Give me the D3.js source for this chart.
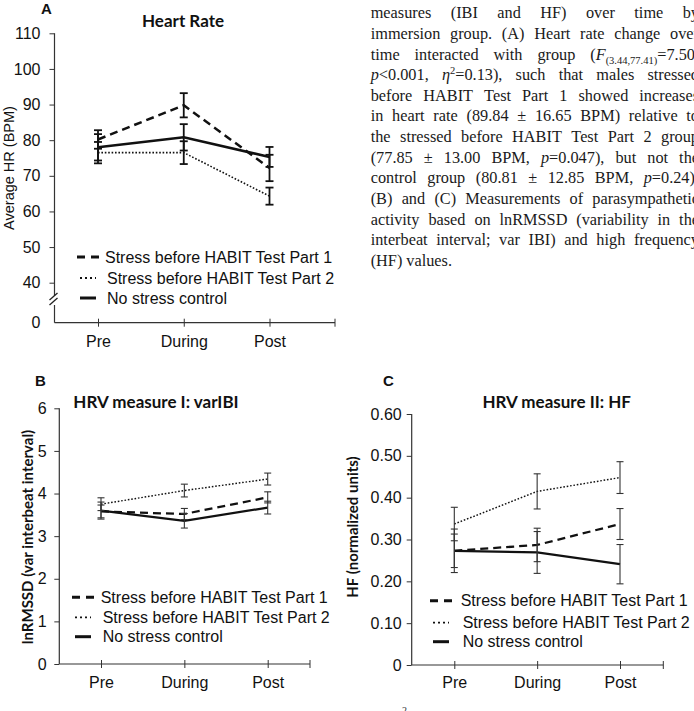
<!DOCTYPE html>
<html>
<head>
<meta charset="utf-8">
<script src="https://cdn.jsdelivr.net/npm/d3@7"></script>
<style>
  body { margin: 0; background: #fff; }
  svg { display: block; }
</style>
</head>
<body>
<svg id="fig" width="694" height="711"></svg>
<script>
// time points and groups
const timepoints = ['Pre', 'During', 'Post'];
const groupNames = ['Stress before HABIT Test Part 1', 'Stress before HABIT Test Part 2', 'No stress control'];

// A: heart rate (BPM), means and error
const hrPart1 = [80.2, 89.8, 72.2];
const hrPart1Err = [2.6, 3.4, 3.7];
const hrPart2 = [76.5, 76.5, 64.3];
const hrPart2Err = [3.0, 3.2, 2.4];
const hrControl = [78.0, 80.8, 75.3];
const hrControlErr = [3.7, 3.7, 2.8];
const hrTicks = [40, 50, 60, 70, 80, 90, 100, 110];

// B: lnRMSSD
const ibiPart1 = [3.58, 3.52, 3.91];
const ibiPart1Err = [0.15, 0.13, 0.13];
const ibiPart2 = [3.75, 4.07, 4.34];
const ibiPart2Err = [0.15, 0.15, 0.14];
const ibiControl = [3.60, 3.36, 3.67];
const ibiControlErr = [0.20, 0.17, 0.15];
const ibiTicks = [0, 1, 2, 3, 4, 5, 6];

// C: HF (normalized units)
const hfPart1 = [0.273, 0.287, 0.337];
const hfPart1Err = [0.052, 0.040, 0.037];
const hfPart2 = [0.337, 0.415, 0.448];
const hfPart2Err = [0.040, 0.042, 0.038];
const hfControl = [0.273, 0.269, 0.241];
const hfControlErr = [0.040, 0.050, 0.047];
const hfTicks = [0, 0.1, 0.2, 0.3, 0.4, 0.5, 0.6];

// caption lines (right column, justified, cut by the page edge as in the scan)
const captionLines = [
    'measures (IBI and HF) over time by',
    'immersion group. (A) Heart rate change over',
    'time interacted with group (*F*_{(3.44,77.41)}=7.50,',
    '*p*<0.001, *η*^{2}=0.13), such that males stressed',
    'before HABIT Test Part 1 showed increases',
    'in heart rate (89.84 ± 16.65 BPM) relative to',
    'the stressed before HABIT Test Part 2 group',
    '(77.85 ± 13.00 BPM, *p*=0.047), but not the',
    'control group (80.81 ± 12.85 BPM, *p*=0.24).',
    '(B) and (C) Measurements of parasympathetic',
    'activity based on lnRMSSD (variability in the',
    'interbeat interval; var IBI) and high frequency',
    '(HF) values.'
];

const svg = d3.select('#fig');
const SANS = 'Liberation Sans, Arial, sans-serif';
const TITLE = 'Lato, Calibri, sans-serif';

const styles = [
    {dash: '8,5', width: 2.5},
    {dash: '1.6,1.8', width: 1.6},
    {dash: null, width: 2.5}
];

const panels = [
    {
        letter: 'A', letterX: 41, letterY: 14,
        title: 'Heart Rate', titleX: 183, titleY: 26.5,
        ylabel: 'Average HR (BPM)', ylabelX: 14, ylabelY: 168, ylabelWeight: 'normal', ylabelFont: SANS, ylabelSize: 14.5,
        means: [hrPart1, hrPart2, hrControl], errs: [hrPart1Err, hrPart2Err, hrControlErr],
        yDomain: [40, 110], yRange: [282.7, 33.3], yTicks: hrTicks, fmt: d3.format('d'),
        axisX: 54.5, axisTop: 33.3, xAxisY: 322.7, xEnd: 335, xRange: [98, 269.5],
        tickPad: 9, labelDy: 13.4, brk: true,
        legendX: 77, legendTextX: 106, legendY: [257, 278, 298],
        errWidth: 1.8, errColor: '#111', capHalf: 4, lineScale: 1
    },
    {
        letter: 'B', letterX: 35, letterY: 386,
        title: 'HRV measure I: varIBI', titleX: 156, titleY: 407.5,
        ylabel: 'lnRMSSD (var interbeat interval)', ylabelX: 33, ylabelY: 537, ylabelWeight: 'bold', ylabelFont: TITLE, ylabelSize: 15,
        means: [ibiPart1, ibiPart2, ibiControl], errs: [ibiPart1Err, ibiPart2Err, ibiControlErr],
        yDomain: [0, 6], yRange: [664, 408.3], yTicks: ibiTicks, fmt: d3.format('d'),
        axisX: 59.3, axisTop: 408.3, xAxisY: 664, xEnd: 310, xRange: [101, 267.7],
        tickPad: 7.6, labelDy: 12.6, brk: false,
        legendX: 72, legendTextX: 101.7, legendY: [597.3, 617.3, 636.7],
        errWidth: 1.1, errColor: '#333', capHalf: 3.5, lineScale: 0.9
    },
    {
        letter: 'C', letterX: 383, letterY: 386,
        title: 'HRV measure II: HF', titleX: 556.7, titleY: 407.5,
        ylabel: 'HF (normalized units)', ylabelX: 358, ylabelY: 527, ylabelWeight: 'bold', ylabelFont: TITLE, ylabelSize: 15,
        means: [hfPart1, hfPart2, hfControl], errs: [hfPart1Err, hfPart2Err, hfControlErr],
        yDomain: [0, 0.6], yRange: [665, 414], yTicks: hfTicks, fmt: d => d === 0 ? '0' : d3.format('.2f')(d),
        axisX: 411.7, axisTop: 414, xAxisY: 665, xEnd: 663.3, xRange: [454.3, 620],
        tickPad: 5, labelDy: 11.6, brk: false,
        legendX: 430, legendTextX: 461.7, legendY: [600.7, 622.7, 641.7],
        errWidth: 1.1, errColor: '#333', capHalf: 3.5, lineScale: 0.9
    }
];

function drawPanel(p) {
    const g = svg.append('g');
    const x = d3.scalePoint().domain(timepoints).range(p.xRange);
    const y = d3.scaleLinear().domain(p.yDomain).range(p.yRange);

    // y axis
    const yAxis = g.append('g')
        .attr('transform', `translate(${p.axisX},0)`)
        .call(d3.axisLeft(y).tickValues(p.yTicks).tickFormat(p.fmt).tickSize(5).tickPadding(p.tickPad));
    yAxis.select('.domain').remove();
    yAxis.selectAll('text').attr('font-family', SANS).attr('font-size', 16).attr('fill', '#111');
    yAxis.selectAll('line').attr('stroke', '#333');

    if (p.brk) {
        // broken axis: 40 ... 0
        g.append('line').attr('x1', p.axisX).attr('x2', p.axisX)
            .attr('y1', p.axisTop).attr('y2', 296).attr('stroke', '#333').attr('stroke-width', 1.2);
        g.append('line').attr('x1', p.axisX).attr('x2', p.axisX)
            .attr('y1', 305).attr('y2', p.xAxisY).attr('stroke', '#333').attr('stroke-width', 1.2);
        [0, 5].forEach(o => {
            g.append('line')
                .attr('x1', p.axisX - 5).attr('y1', 300 + o)
                .attr('x2', p.axisX + 3).attr('y2', 293 + o)
                .attr('stroke', '#222').attr('stroke-width', 1.3);
        });
        g.append('text').attr('x', p.axisX - 14).attr('y', p.xAxisY)
            .attr('dy', '0.32em').attr('text-anchor', 'end')
            .attr('font-family', SANS).attr('font-size', 16).attr('fill', '#111').text('0');
    } else {
        g.append('line').attr('x1', p.axisX).attr('x2', p.axisX)
            .attr('y1', p.axisTop).attr('y2', p.xAxisY).attr('stroke', '#333').attr('stroke-width', 1.2);
    }

    // x axis
    const xAxis = g.append('g')
        .attr('transform', `translate(0,${p.xAxisY})`)
        .call(d3.axisBottom(x).tickSize(4).tickPadding(p.labelDy - 4));
    xAxis.select('.domain').remove();
    xAxis.selectAll('line').attr('y1', -4).attr('stroke', '#333');
    xAxis.selectAll('text').attr('font-family', SANS).attr('font-size', 16).attr('fill', '#111');
    g.append('line').attr('x1', p.axisX).attr('x2', p.xEnd)
        .attr('y1', p.xAxisY).attr('y2', p.xAxisY).attr('stroke', '#333').attr('stroke-width', 1.2);
    g.append('line').attr('x1', p.xEnd).attr('x2', p.xEnd)
        .attr('y1', p.xAxisY - 4).attr('y2', p.xAxisY + 4).attr('stroke', '#333');

    // series lines
    const line = d3.line().x((d, i) => x(timepoints[i])).y(d => y(d));
    p.means.forEach((vals, k) => {
        g.append('path')
            .attr('d', line(vals))
            .attr('fill', 'none')
            .attr('stroke', '#111')
            .attr('stroke-width', styles[k].width * p.lineScale)
            .attr('stroke-dasharray', styles[k].dash);
    });

    // error bars
    p.means.forEach((vals, k) => {
        vals.forEach((v, i) => {
            const cx = x(timepoints[i]);
            const e = p.errs[k][i];
            g.append('line').attr('x1', cx).attr('x2', cx)
                .attr('y1', y(v - e)).attr('y2', y(v + e))
                .attr('stroke', p.errColor).attr('stroke-width', p.errWidth);
            [v - e, v + e].forEach(c => {
                g.append('line').attr('x1', cx - p.capHalf).attr('x2', cx + p.capHalf)
                    .attr('y1', y(c)).attr('y2', y(c))
                    .attr('stroke', p.errColor).attr('stroke-width', p.errWidth);
            });
        });
    });

    // legend
    groupNames.forEach((name, k) => {
        const ly = p.legendY[k];
        const x0 = k === 0 ? p.legendX : p.legendX + 3;
        const x1 = k === 0 ? p.legendX + 22 : p.legendX + 19;
        g.append('line').attr('x1', x0).attr('x2', x1)
            .attr('y1', ly).attr('y2', ly)
            .attr('stroke', '#111')
            .attr('stroke-width', k === 1 ? 1.8 : 3)
            .attr('stroke-dasharray', k === 0 ? '8,6' : (k === 1 ? '2,3' : null));
        g.append('text').attr('x', k === 0 ? p.legendTextX - 1 : p.legendTextX + 1).attr('y', ly)
            .attr('dy', '0.35em')
            .attr('font-family', SANS).attr('font-size', 16).attr('fill', '#111')
            .text(name);
    });

    // titles
    g.append('text').attr('x', p.letterX).attr('y', p.letterY)
        .attr('font-family', SANS).attr('font-weight', 'bold').attr('font-size', 15).attr('fill', '#111')
        .text(p.letter);
    g.append('text').attr('x', p.titleX).attr('y', p.titleY).attr('text-anchor', 'middle')
        .attr('font-family', TITLE).attr('font-weight', 'bold').attr('font-size', 17).attr('fill', '#111')
        .text(p.title);
    g.append('text')
        .attr('transform', `translate(${p.ylabelX},${p.ylabelY}) rotate(-90)`)
        .attr('text-anchor', 'middle')
        .attr('font-family', p.ylabelFont).attr('font-weight', p.ylabelWeight)
        .attr('font-size', p.ylabelSize).attr('fill', '#111')
        .text(p.ylabel);
}

panels.forEach(drawPanel);

// caption: parse *italic*, _{sub}, ^{sup}
function segments(word) {
    const out = [];
    const re = /\*([^*]+)\*|_\{([^}]+)\}|\^\{([^}]+)\}|([^*_^]+)/g;
    let m;
    while ((m = re.exec(word)) !== null) {
        if (m[1]) out.push({t: m[1], s: 'it'});
        else if (m[2]) out.push({t: m[2], s: 'sub'});
        else if (m[3]) out.push({t: m[3], s: 'sup'});
        else out.push({t: m[4], s: 'n'});
    }
    return out;
}

const capX = 370.7, capRight = 699, capY = 18.3, capStep = 20.62;
const cap = svg.append('g')
    .attr('font-family', 'Liberation Serif, Times New Roman, serif')
    .attr('font-size', 16.3).attr('fill', '#1a1a1a');

captionLines.forEach((lineText, li) => {
    const words = lineText.split(' ');
    const baseY = capY + li * capStep;
    const nodes = words.map(w => {
        const t = cap.append('text').attr('y', baseY);
        let shift = 0;
        segments(w).forEach(sg => {
            const ts = t.append('tspan').text(sg.t);
            if (sg.s === 'it') ts.attr('font-style', 'italic');
            const target = sg.s === 'sub' ? 4 : (sg.s === 'sup' ? -6 : 0);
            if (sg.s === 'sub' || sg.s === 'sup') ts.attr('font-size', 10.5);
            if (target !== shift) { ts.attr('dy', target - shift); shift = target; }
        });
        return t;
    });
    const widths = nodes.map(n => n.node().getComputedTextLength());
    const total = d3.sum(widths);
    const last = li === captionLines.length - 1;
    const gap = last ? 4 : (capRight - capX - total) / (words.length - 1);
    let cx = capX;
    nodes.forEach((n, i) => {
        n.attr('x', cx);
        cx += widths[i] + gap;
    });
});

// page-number fragment at bottom edge
svg.append('text').attr('x', 402).attr('y', 714)
    .attr('font-family', 'Liberation Serif, serif').attr('font-size', 10).attr('fill', '#333')
    .text('2');
</script>
</body>
</html>
